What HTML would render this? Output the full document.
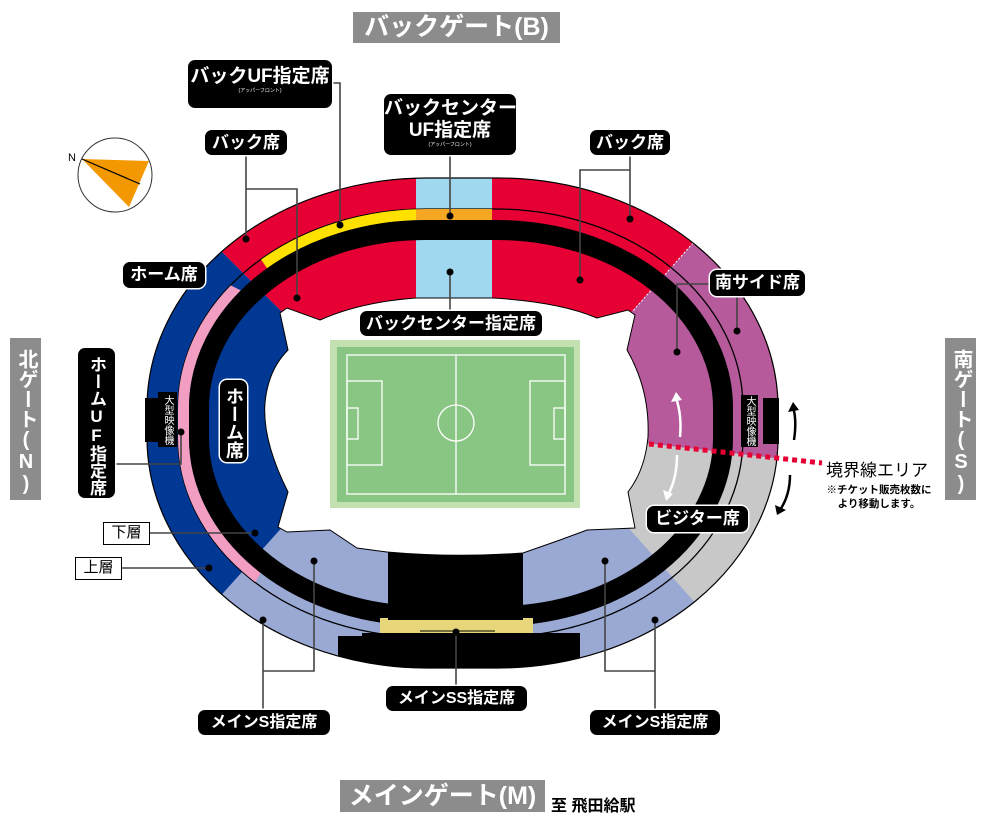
<!DOCTYPE html>
<html><head><meta charset="utf-8">
<style>
*{margin:0;padding:0;box-sizing:border-box}
body{width:1000px;height:823px;background:#fff;position:relative;overflow:hidden;font-family:"Liberation Sans","Noto Sans CJK JP",sans-serif;font-weight:bold}
svg{position:absolute;left:0;top:0}
.lb{position:absolute;background:#000;color:#fff;border-radius:7px;text-align:center;white-space:nowrap;font-weight:bold;box-shadow:0 0 0 1.5px #fff}
.gate{position:absolute;background:#8c8c8c;color:#fff;text-align:center;font-weight:bold;white-space:nowrap}
.v{writing-mode:vertical-rl;text-orientation:upright}
.wb{position:absolute;background:#fff;border:1.5px solid #000;color:#000;font-size:15px;text-align:center;line-height:20px;font-weight:normal}
.sub{display:block;font-size:5px;font-weight:normal;line-height:6px}
</style></head><body>
<svg width="1000" height="823" viewBox="0 0 1000 823">
<defs>
<clipPath id="outer"><rect x="147" y="178" width="631" height="490" rx="280" ry="230"/></clipPath>
<clipPath id="yel"><polygon points="150,100 310,330 416,330 416,100"/></clipPath>
<clipPath id="pnk"><polygon points="0,170 300,320 320,470 245,600 0,640"/></clipPath>
<clipPath id="org"><rect x="416" y="150" width="76" height="100"/></clipPath>
</defs>
<!-- compass -->
<circle cx="115" cy="175" r="37" fill="#fff" stroke="#333" stroke-width="1"/>
<polygon points="82,159 149,161 129,207" fill="#f39800"/>
<line x1="82" y1="159" x2="140" y2="184" stroke="#000" stroke-width="1.2"/>
<text x="68" y="161" font-size="11" font-family="Liberation Sans" font-weight="normal">N</text>

<g clip-path="url(#outer)">
  <rect x="0" y="0" width="1000" height="823" fill="#9aa8d4"/>
  <polygon points="140,170 330,360 600,347 790,135 790,0 140,0" fill="#e60033"/>
  <polygon points="140,170 330,360 330,470 320,485 190,630 0,630 0,0 140,0" fill="#003894"/>
  <polygon points="600,347 790,135 1000,135 1000,484 600,438" fill="#b65a9c"/>
  <polygon points="600,438 1000,484 1000,750 780,698 600,496" fill="#c8c8c8"/>
  <rect x="416" y="170" width="76" height="140" fill="#a0d8f0"/>
  <line x1="693" y1="243" x2="632" y2="312" stroke="#fff" stroke-width="1" stroke-dasharray="2 2"/>
  <rect x="178" y="209" width="565" height="428" rx="247" ry="199" fill="none" stroke="#000" stroke-width="1.3"/>
  <rect x="183.5" y="214.5" width="558" height="417" rx="243.5" ry="193.5" fill="none" stroke="#ffe100" stroke-width="11" clip-path="url(#yel)"/>
  <rect x="183.5" y="214.5" width="558" height="417" rx="243.5" ry="193.5" fill="none" stroke="#f19ec2" stroke-width="11" clip-path="url(#pnk)"/>
  <rect x="183.5" y="214.5" width="558" height="417" rx="243.5" ry="193.5" fill="none" stroke="#f5a623" stroke-width="11" clip-path="url(#org)"/>
  <rect x="199" y="230" width="524" height="386" rx="226" ry="178" fill="none" stroke="#000" stroke-width="20"/>
  <rect x="380" y="618" width="153" height="18" fill="#e8d77a"/>
  <rect x="388" y="548" width="135" height="72" fill="#000"/>
  <rect x="338" y="636" width="242" height="40" fill="#000"/>
  <rect x="362" y="633" width="218" height="4" fill="#000"/>
  <line x1="420" y1="631" x2="495" y2="631" stroke="#000" stroke-width="1"/>
</g>
<rect x="147" y="178" width="631" height="490" rx="280" ry="230" fill="none" stroke="#000" stroke-width="1.2"/>
<line x1="640" y1="443" x2="822" y2="463" stroke="#e60033" stroke-width="5" stroke-dasharray="5 4"/>
<!-- hole -->
<path d="M280,313 L287,308 L320,320 Q360,302 416,298 L493,298 Q560,302 597,318 L628,310 L635,315 L627,350 Q650,390 648,437 Q645,470 628,492 L635,528 L587,530 L560,540 L523,553 Q455,558 387,552 L357,548 L330,530 L287,532 L278,527 L288,492 Q262,440 265,403 Q268,370 288,350 Z" fill="#fff" stroke="#000" stroke-width="1"/>
<!-- field -->
<rect x="330" y="340" width="250" height="168" fill="#c2e0b0"/>
<rect x="337" y="347" width="237" height="155" fill="#8ac683"/>
<g fill="none" stroke="#fff" stroke-width="1.3">
<rect x="347" y="355" width="218" height="139"/>
<line x1="456" y1="355" x2="456" y2="494"/>
<circle cx="456" cy="423" r="18"/>
<rect x="347" y="381" width="35" height="84"/>
<rect x="347" y="408" width="11" height="31"/>
<rect x="530" y="381" width="35" height="84"/>
<rect x="554" y="408" width="11" height="31"/>
</g>
<rect x="145" y="398" width="15" height="44" fill="#000"/>
<rect x="763" y="398" width="16" height="46" fill="#000"/>
<path d="M680,437 Q682,415 676,398" fill="none" stroke="#fff" stroke-width="2.5"/>
<polygon points="671,402 676,392 682,400" fill="#fff"/>
<path d="M677,455 Q677,478 668,495" fill="none" stroke="#fff" stroke-width="2.5"/>
<polygon points="663,490 666,501 673,494" fill="#fff"/>
<path d="M794,440 Q797,420 793,407" fill="none" stroke="#000" stroke-width="2.5"/>
<polygon points="788,412 793,402 799,410" fill="#000"/>
<path d="M790,475 Q790,495 780,510" fill="none" stroke="#000" stroke-width="2.5"/>
<polygon points="775,505 777,515 786,510" fill="#000"/>
<g fill="none" stroke="#444" stroke-width="1.6">
<polyline points="332,83 340,83 340,225"/>
<polyline points="246,155 246,239"/>
<polyline points="246,189 297,189 297,298"/>
<line x1="450" y1="155" x2="450" y2="216"/>
<line x1="450" y1="272" x2="450" y2="312"/>
<line x1="630" y1="155" x2="630" y2="219"/>
<polyline points="580,280 580,170 630,170"/>
<polyline points="115,464 181,464 181,432"/>
<line x1="150" y1="533" x2="255" y2="533"/>
<line x1="122" y1="568" x2="209" y2="568"/>
<polyline points="710,284 677,284 677,352"/>
<line x1="737" y1="295" x2="737" y2="331"/>
<line x1="456" y1="686" x2="456" y2="632"/>
<polyline points="263,712 263,620"/>
<polyline points="263,671 314,671 314,561"/>
<polyline points="655,712 655,620"/>
<polyline points="655,671 605,671 605,561"/>
</g>
<g fill="#000">
<circle cx="340" cy="225" r="3.5"/><circle cx="246" cy="239" r="3.5"/><circle cx="297" cy="298" r="3.5"/>
<circle cx="450" cy="216" r="3.5"/><circle cx="450" cy="272" r="3.5"/><circle cx="630" cy="219" r="3.5"/>
<circle cx="580" cy="280" r="3.5"/><circle cx="181" cy="432" r="3.5"/><circle cx="255" cy="533" r="3.5"/>
<circle cx="209" cy="568" r="3.5"/><circle cx="677" cy="352" r="3.5"/><circle cx="737" cy="331" r="3.5"/>
<circle cx="456" cy="632" r="3.5"/><circle cx="263" cy="620" r="3.5"/><circle cx="314" cy="561" r="3.5"/>
<circle cx="655" cy="620" r="3.5"/><circle cx="605" cy="561" r="3.5"/>
</g>
</svg>

<div class="gate" style="left:353px;top:12px;width:207px;height:31px;font-size:25px;line-height:31px">バックゲート(B)</div>
<div class="gate v" style="left:10px;top:338px;width:31px;height:162px;font-size:20px;line-height:31px;padding-top:6px">北ゲート(N)</div>
<div class="gate v" style="left:945px;top:338px;width:31px;height:162px;font-size:20px;line-height:31px;padding-top:6px">南ゲート(S)</div>
<div class="gate" style="left:340px;top:780px;width:205px;height:32px;font-size:25px;line-height:32px">メインゲート(M)</div>
<div style="position:absolute;left:551px;top:792px;font-size:16px;color:#000">至 飛田給駅</div>

<div class="lb" style="left:188px;top:60px;width:144px;height:48px;font-size:19px;padding-top:6px;line-height:22px">バックUF指定席<span class="sub">(アッパーフロント)</span></div>
<div class="lb" style="left:205px;top:130px;width:82px;height:25px;font-size:17px;line-height:25px">バック席</div>
<div class="lb" style="left:384px;top:94px;width:132px;height:61px;font-size:19px;line-height:22px;padding-top:4px">バックセンター<br>UF指定席<span class="sub">(アッパーフロント)</span></div>
<div class="lb" style="left:590px;top:130px;width:80px;height:25px;font-size:17px;line-height:25px">バック席</div>
<div class="lb" style="left:360px;top:311px;width:182px;height:25px;font-size:17px;line-height:25px">バックセンター指定席</div>
<div class="lb" style="left:123px;top:262px;width:82px;height:26px;font-size:17px;line-height:26px">ホーム席</div>
<div class="lb v" style="left:220px;top:380px;width:27px;height:82px;font-size:18px;line-height:27px;padding-top:4px">ホーム席</div>
<div class="lb v" style="left:78px;top:348px;width:37px;height:150px;font-size:17px;line-height:37px;padding-top:6px;overflow:hidden">ホームUF指定席</div>
<div class="lb v" style="left:158px;top:392px;width:19px;height:55px;font-size:10px;line-height:19px;border-radius:0;box-shadow:none;font-weight:normal">大型映像機</div>
<div class="lb v" style="left:741px;top:395px;width:17px;height:52px;font-size:10px;line-height:17px;border-radius:0;box-shadow:none;font-weight:normal">大型映像機</div>
<div class="lb" style="left:710px;top:270px;width:95px;height:26px;font-size:17px;line-height:26px">南サイド席</div>
<div class="lb" style="left:647px;top:506px;width:101px;height:26px;font-size:17px;line-height:26px">ビジター席</div>
<div class="lb" style="left:386px;top:686px;width:141px;height:25px;font-size:16px;line-height:25px">メインSS指定席</div>
<div class="lb" style="left:198px;top:710px;width:132px;height:25px;font-size:16px;line-height:25px">メインS指定席</div>
<div class="lb" style="left:590px;top:710px;width:130px;height:25px;font-size:16px;line-height:25px">メインS指定席</div>
<div class="wb" style="left:103px;top:522px;width:47px;height:23px">下層</div>
<div class="wb" style="left:75px;top:557px;width:47px;height:23px">上層</div>
<div style="position:absolute;left:826px;top:456px;font-size:17px;font-weight:normal;color:#000">境界線エリア</div>
<div style="position:absolute;left:824px;top:483px;width:110px;font-size:10.5px;line-height:14px;text-align:center;color:#000">※チケット販売枚数に<br>より移動します。</div>
</body></html>
